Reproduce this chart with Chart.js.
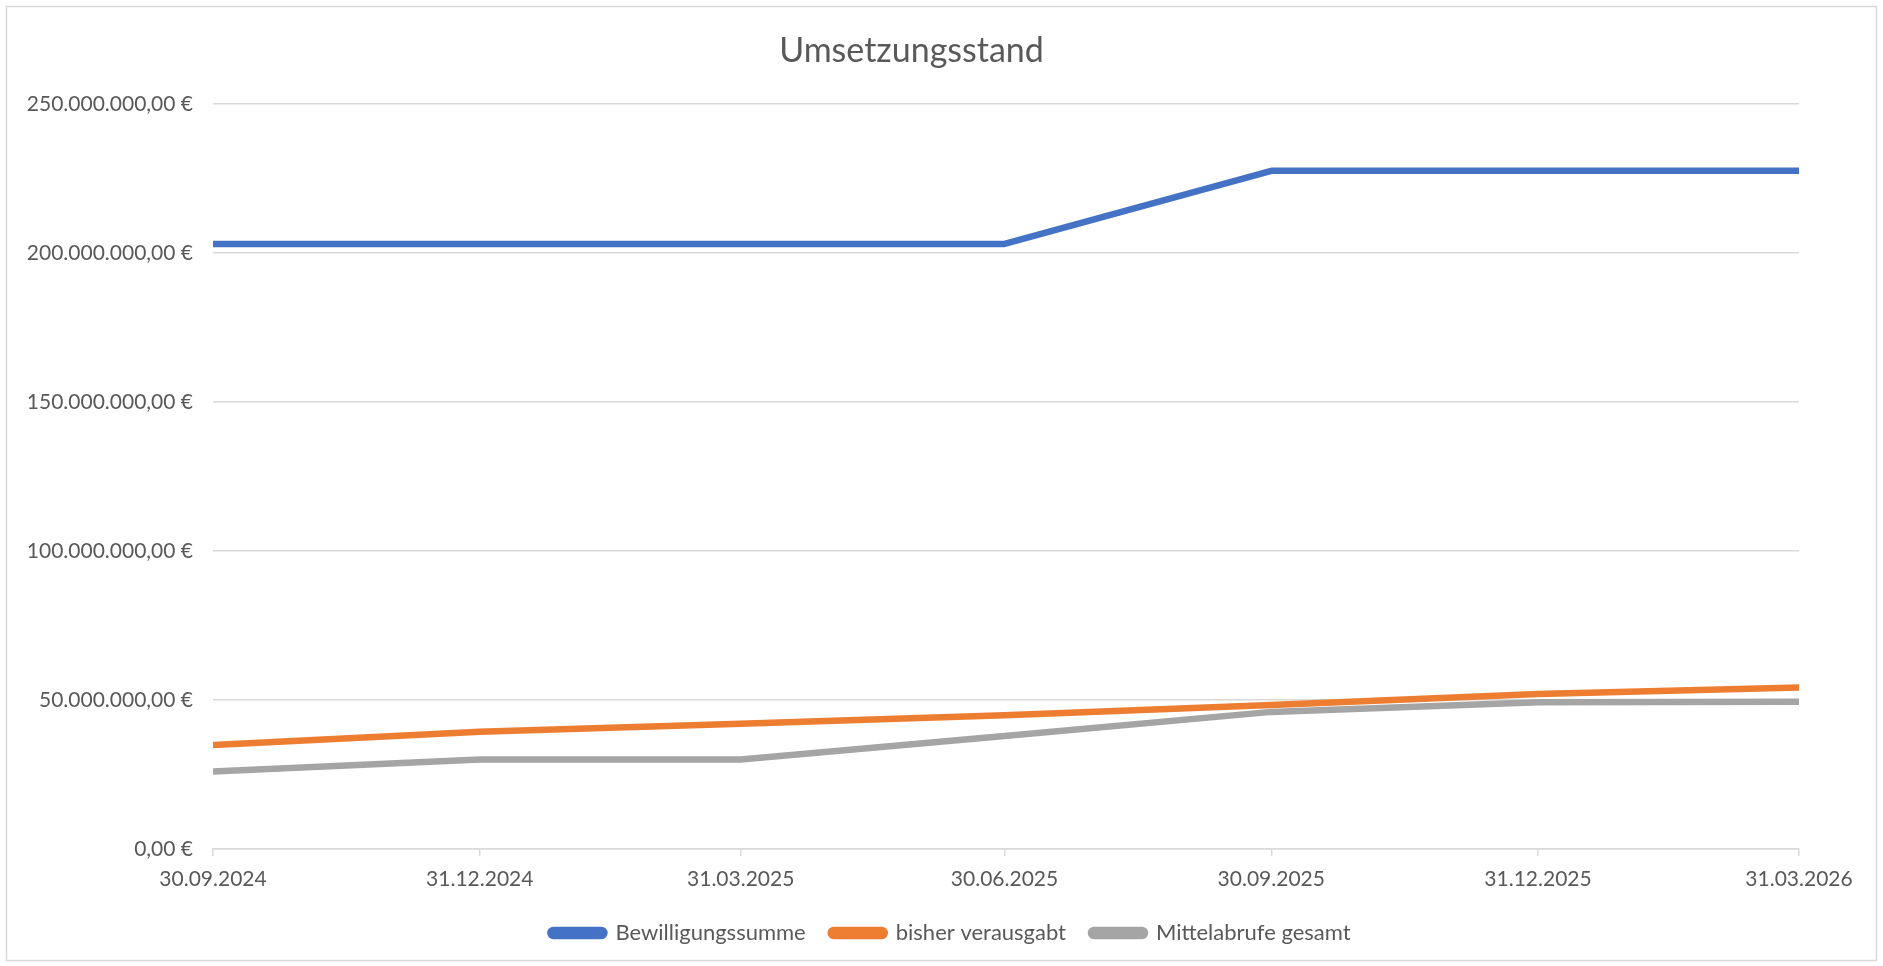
<!DOCTYPE html>
<html>
<head>
<meta charset="utf-8">
<script src="https://cdn.jsdelivr.net/npm/chart.js@4"></script>
<style>
    html, body { margin: 0; padding: 0; background: #fff; }
    #wrap { width: 1883px; height: 966px; }
</style>
</head>
<body>
<div id="wrap"><canvas id="umsetzungChart"></canvas></div>
<script>
// Stichtage (date axis)
const stichtage = ['30.09.2024', '31.12.2024', '31.03.2025', '30.06.2025', '30.09.2025', '31.12.2025', '31.03.2026'];

// Werte in Euro
const bewilligungssumme = [203000000, 203000000, 203000000, 203000000, 227500000, 227500000, 227500000];
const bisherVerausgabt = [34900000, 39300000, 42000000, 44900000, 48300000, 52000000, 54200000];
const mittelabrufeGesamt = [26000000, 30000000, 30000000, 37900000, 46000000, 49200000, 49400000];

const yTicks = [0, 50000000, 100000000, 150000000, 200000000, 250000000];

// days since first Stichtag, so the axis is spaced like a date axis
function toDate(s) {
    const p = s.split('.');
    return Date.UTC(+p[2], +p[1] - 1, +p[0]);
}
const t0 = toDate(stichtage[0]);
const tage = stichtage.map(s => Math.round((toDate(s) - t0) / 86400000));

function euro(v) {
    const parts = v.toFixed(2).split('.');
    const whole = parts[0].replace(/\B(?=(\d{3})+(?!\d))/g, '.');
    return whole + ',' + parts[1] + ' €';
}

function points(values) {
    return values.map((v, i) => ({ x: tage[i], y: v }));
}

const frame = {
    id: 'frame',
    beforeDraw(chart) {
        const ctx = chart.ctx;
        ctx.save();
        ctx.fillStyle = '#ffffff';
        ctx.fillRect(0, 0, chart.width, chart.height);
        ctx.strokeStyle = '#d9d9d9';
        ctx.lineWidth = 1.5;
        ctx.strokeRect(6.5, 6.5, chart.width - 13, chart.height - 12);
        ctx.restore();
    }
};

// center the legend on the whole canvas, not on the padded area
const legendShift = {
    id: 'legendShift',
    afterLayout(chart) {
        if (chart.legend) {
            chart.legend.left = 18;
            chart.legend.right = chart.width;
        }
    }
};

const font = "Lato, 'Open Sans', sans-serif";
const textColor = '#595959';

function lineSet(label, values, color) {
    return {
        label: label,
        data: points(values),
        borderColor: color,
        backgroundColor: color,
        borderWidth: 6.5,
        borderCapStyle: 'round',
        borderJoinStyle: 'round',
        pointRadius: 0,
        tension: 0
    };
}

new Chart(document.getElementById('umsetzungChart'), {
    type: 'line',
    data: {
        datasets: [
            lineSet('Bewilligungssumme', bewilligungssumme, '#4472c4'),
            lineSet('bisher verausgabt', bisherVerausgabt, '#ed7d31'),
            lineSet('Mittelabrufe gesamt', mittelabrufeGesamt, '#a5a5a5')
        ]
    },
    options: {
        responsive: true,
        maintainAspectRatio: false,
        animation: false,
        layout: {
            padding: { top: 0, left: 24, right: 84, bottom: 12 }
        },
        plugins: {
            title: {
                display: true,
                text: 'Umsetzungsstand',
                color: textColor,
                font: { family: font, size: 34, weight: 'normal' },
                padding: { top: 31, bottom: 32 }
            },
            legend: {
                position: 'bottom',
                labels: {
                    color: textColor,
                    font: { family: font, size: 22 },
                    boxWidth: 54,
                    boxHeight: 6,
                    padding: 25,
                    useBorderRadius: true,
                    borderRadius: 3
                }
            },
            tooltip: { enabled: false }
        },
        scales: {
            x: {
                type: 'linear',
                min: tage[0],
                max: tage[tage.length - 1],
                afterBuildTicks: function(scale) {
                    scale.ticks = tage.map(v => ({ value: v }));
                },
                afterFit: function(scale) {
                    scale.height = 48;
                },
                ticks: {
                    color: textColor,
                    font: { family: font, size: 21 },
                    padding: 11,
                    maxRotation: 0,
                    autoSkip: false,
                    callback: function(value) {
                        const i = tage.indexOf(value);
                        return i >= 0 ? stichtage[i] : '';
                    }
                },
                grid: {
                    drawOnChartArea: false,
                    drawTicks: true,
                    tickLength: 7,
                    color: '#d9d9d9',
                    lineWidth: 1.5
                },
                border: { color: '#d9d9d9', width: 1.5 }
            },
            y: {
                min: 0,
                max: 250000000,
                afterBuildTicks: function(scale) {
                    scale.ticks = yTicks.map(v => ({ value: v }));
                },
                afterFit: function(scale) {
                    scale.width = 189;
                },
                ticks: {
                    color: textColor,
                    font: { family: font, size: 21 },
                    padding: 20,
                    callback: function(value) {
                        return euro(value);
                    }
                },
                grid: {
                    drawTicks: false,
                    color: '#d9d9d9',
                    lineWidth: 1.5
                },
                border: { display: false }
            }
        }
    },
    plugins: [frame, legendShift]
});
</script>
</body>
</html>
